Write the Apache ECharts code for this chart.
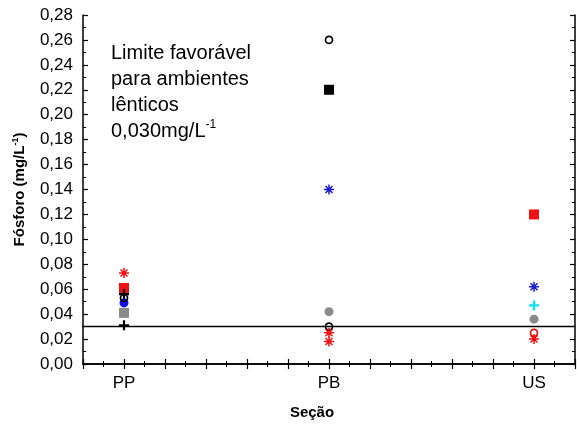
<!DOCTYPE html>
<html>
<head>
<meta charset="utf-8">
<script src="https://cdn.jsdelivr.net/npm/echarts@6/dist/echarts.min.js"></script>
<style>
  html, body { margin: 0; padding: 0; background: #fff; }
  #chart { width: 578px; height: 427px; }
</style>
</head>
<body>
<div id="chart"></div>
<script>
// Sections along the x axis and their numeric positions
const sections = ['PP', 'PB', 'US'];
const sectionPos = [1, 2, 3];

// Phosphorus readings (mg/L) per section, grouped by marker style
const redAsterisk   = [[0.073], [0.025, 0.018], [0.020]];
const redSquare     = [[0.061], [], [0.120]];
const blackPlus     = [[0.056, 0.031], [], []];
const openCircle    = [[0.053], [0.260, 0.030], []];
const redOpenCircle = [[], [], [0.025]];
const blueCircle    = [[0.049], [], []];
const graySquare    = [[0.041], [], []];
const blackSquare   = [[], [0.220], []];
const blueAsterisk  = [[], [0.140], [0.062]];
const grayCircle    = [[], [0.042], [0.036]];
const cyanPlus      = [[], [], [0.047]];

// Reference limit for lentic environments
const limitValue = 0.03;

const yTicks = { min: 0, max: 0.28, interval: 0.02 };
const xRange = { min: 0.8, max: 3.2, interval: 0.2 };

const ASTERISK = 'path://M5,0L5,10M0,5L10,5M1.5,1.5L8.5,8.5M8.5,1.5L1.5,8.5';
const PLUS = 'path://M5,0L5,10M0,5L10,5';

function toPoints(groups) {
  const pts = [];
  groups.forEach((vals, i) => vals.forEach(v => pts.push([sectionPos[i], v])));
  return pts;
}

function stroked(name, groups, symbol, color, size, width) {
  return {
    name, type: 'scatter', data: toPoints(groups), symbol, symbolSize: size,
    itemStyle: { color: 'rgba(0,0,0,0)', borderColor: color, borderWidth: width, opacity: 1 },
    emphasis: { disabled: true }
  };
}
function filled(name, groups, symbol, color, size) {
  return {
    name, type: 'scatter', data: toPoints(groups), symbol, symbolSize: size,
    itemStyle: { color: color, borderWidth: 0, opacity: 1 },
    emphasis: { disabled: true }
  };
}

const FONT = 'Arial, "Liberation Sans", sans-serif';

function sectionLabel(v) {
  for (let i = 0; i < sectionPos.length; i++) {
    if (Math.abs(v - sectionPos[i]) < 1e-6) return sections[i];
  }
  return '';
}

const axisLine = { show: true, lineStyle: { color: '#000', width: 1.5 } };
const tick = { show: true, inside: true, length: 5, lineStyle: { color: '#000', width: 1.2 } };
const minor = { show: true, splitNumber: 2, length: 3, lineStyle: { color: '#000', width: 1 } };

const chart = echarts.init(document.getElementById('chart'), null, { renderer: 'canvas' });
chart.setOption({
  animation: false,
  backgroundColor: '#fff',
  grid: { left: 83, right: 1, top: 15, bottom: 63, containLabel: false },
  xAxis: [{
    type: 'value', position: 'bottom', ...xRange,
    name: 'Seção', nameLocation: 'middle', nameGap: 41,
    nameTextStyle: {
      fontFamily: FONT, fontWeight: 'bold', fontSize: 15, color: '#000',
      padding: [0, 34, 0, 0]
    },
    axisLine, axisTick: tick, minorTick: minor,
    splitLine: { show: false },
    axisLabel: { formatter: sectionLabel, fontFamily: FONT, fontSize: 17, color: '#000', margin: 11 }
  }, {
    type: 'value', position: 'top', ...xRange,
    axisLine, axisTick: tick, minorTick: minor,
    splitLine: { show: false }, axisLabel: { show: false }
  }],
  yAxis: [{
    type: 'value', position: 'left', ...yTicks,
    name: '{t|Fósforo (mg/L}{s|-1}{t|)}', nameLocation: 'middle', nameGap: 55, nameRotate: 90,
    nameTextStyle: {
      rich: {
        t: { fontFamily: FONT, fontWeight: 'bold', fontSize: 15, color: '#000' },
        s: { fontFamily: FONT, fontWeight: 'bold', fontSize: 9, color: '#000', padding: [0, 0, 8, 0] }
      }
    },
    axisLine, axisTick: tick, minorTick: minor,
    splitLine: { show: false },
    axisLabel: {
      formatter: v => v.toFixed(2).replace('.', ','),
      fontFamily: FONT, fontSize: 17, color: '#000', margin: 10
    }
  }, {
    type: 'value', position: 'right', ...yTicks,
    axisLine, axisTick: tick, minorTick: minor,
    splitLine: { show: false }, axisLabel: { show: false }
  }],
  graphic: [{
    type: 'text', left: 111, top: 43,
    style: {
      text: '{a|Limite favorável}\n{a|para ambientes}\n{a|lênticos}\n{a|0,030mg/L}{s|-1}',
      rich: {
        a: { fontFamily: FONT, fontSize: 20, lineHeight: 26, fill: '#000' },
        s: { fontFamily: FONT, fontSize: 12, lineHeight: 26, fill: '#000', padding: [0, 0, 12, 0] }
      }
    }
  }],
  series: [
    {
      name: 'limite', type: 'line', data: [[0.76, limitValue], [xRange.max, limitValue]],
      symbol: 'none', clip: false, silent: true,
      lineStyle: { color: '#000', width: 1.5 }, z: 1
    },
    filled('Cinza quadrado', graySquare, 'rect', '#8a8a8a', 10),
    filled('Cinza círculo', grayCircle, 'circle', '#8a8a8a', 9),
    filled('Azul círculo', blueCircle, 'circle', '#1010e0', 9),
    stroked('Círculo aberto', openCircle, 'circle', '#000', 7, 1.7),
    stroked('Círculo aberto vermelho', redOpenCircle, 'circle', '#e01010', 7, 1.7),
    filled('Preto quadrado', blackSquare, 'rect', '#000', 10),
    filled('Vermelho quadrado', redSquare, 'rect', '#ee1111', 10),
    stroked('Cruz preta', blackPlus, PLUS, '#000', 10, 2.2),
    stroked('Cruz ciano', cyanPlus, PLUS, '#10e0f0', 10, 2.4),
    stroked('Asterisco azul', blueAsterisk, ASTERISK, '#1a1acc', 10, 1.5),
    stroked('Asterisco vermelho', redAsterisk, ASTERISK, '#ee1111', 10, 1.5)
  ]
});
</script>
</body>
</html>
